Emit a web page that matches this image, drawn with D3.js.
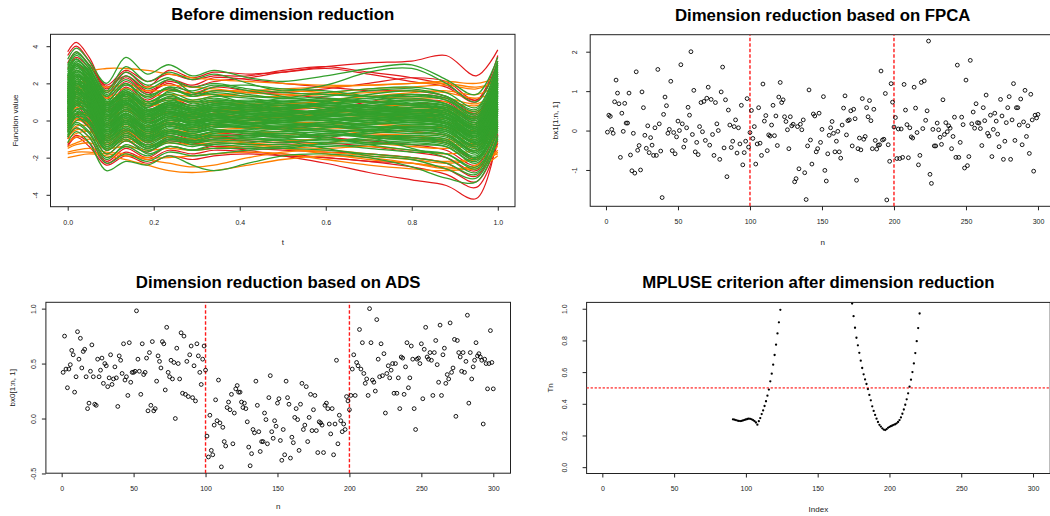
<!DOCTYPE html>
<html>
<head>
<meta charset="utf-8">
<script src="https://cdn.jsdelivr.net/npm/d3@7"></script>
<style>
  body { margin: 0; background: #fff; }
  svg { display: block; font-family: "Liberation Sans", Arial, Helvetica, sans-serif; }
</style>
</head>
<body>
<script>
(function (d3) {
  'use strict';

  // ---- data ----

  // panel 1: functional curves, values at these t knots
  const tGrid = [0, 0.02, 0.05, 0.09, 0.135, 0.185, 0.235, 0.29, 0.34, 0.42, 0.5, 0.6, 0.7, 0.8, 0.88, 0.95, 1];

  const redCurves = [
    [3.7, 4.2, 3.4, 1.8, 2.4, 1.6, 2.1, 1.8, 2.1, 2.3, 2.6, 2.9, 3.1, 3.2, 3.5, 2.4, 3.8],
    [3.5, 4.0, 3.2, 1.7, 2.6, 1.8, 2.7, 2.3, 2.6, 2.5, 2.6, 2.8, 2.5, 2.1, 1.8, 1.0, 3.2],
    [0.5, 0.9, 0.3, -0.9, -0.5, -1.1, -0.9, -1.2, -1.4, -1.6, -1.9, -2.3, -2.8, -3.2, -3.5, -4.2, -0.8],
    [-1.4, -0.9, -1.4, -2.4, -1.9, -2.3, -1.9, -2.1, -1.9, -1.8, -1.9, -2.0, -2.2, -2.5, -2.9, -3.6, -1.2],
    [2.8, 3.4, 2.8, 1.5, 2.3, 1.5, 2.0, 1.5, 1.8, 1.6, 1.5, 1.7, 2.0, 2.3, 2.1, 1.1, 3.0],
    [-1.0, -0.4, -0.9, -2.2, -1.5, -2.0, -1.4, -1.6, -1.4, -1.5, -1.6, -1.7, -1.8, -2.0, -2.3, -3.0, -0.7],
    [1.7, 2.4, 1.8, 0.5, 1.4, 0.7, 1.2, 0.8, 1.0, 0.8, 0.6, 0.7, 0.8, 0.9, 0.8, -0.1, 2.2],
    [0.6, 1.2, 0.6, -0.8, 0.0, -0.7, -0.1, -0.5, -0.3, -0.4, -0.4, -0.3, -0.5, -0.6, -0.8, -1.6, 0.5],
    [2.3, 3.0, 2.4, 1.2, 2.1, 1.4, 2.2, 1.9, 2.3, 2.2, 2.0, 1.8, 1.6, 1.6, 1.3, 0.4, 2.6],
    [-0.5, 0.1, -0.4, -1.8, -1.1, -1.7, -1.1, -1.3, -1.0, -1.1, -1.2, -1.2, -1.4, -1.7, -2.0, -2.7, -0.4],
    [1.2, 1.8, 1.1, -0.2, 0.6, -0.1, 0.5, 0.1, 0.4, 0.2, 0.3, 0.6, 1.0, 1.4, 1.2, 0.3, 2.5],
    [0.1, 0.7, 0.1, -1.3, -0.6, -1.2, -0.7, -1.0, -0.7, -0.8, -0.9, -0.8, -0.8, -0.9, -1.2, -2.1, 0.0],
    [3.1, 3.7, 3.0, 1.9, 2.7, 2.1, 2.5, 2.2, 2.4, 2.4, 2.7, 2.9, 2.6, 2.3, 1.9, 1.1, 3.5],
    [-1.3, -0.8, -1.2, -2.3, -1.7, -2.1, -1.6, -1.8, -1.6, -1.7, -1.8, -2.0, -2.2, -2.3, -2.6, -3.3, -1.1],
    [2.0, 2.7, 2.1, 0.8, 1.8, 1.1, 1.7, 1.4, 1.6, 1.5, 1.4, 1.2, 1.0, 1.1, 1.0, 0.1, 2.4],
    [-0.2, 0.3, -0.3, -1.6, -0.9, -1.5, -0.9, -1.1, -0.9, -0.8, -0.7, -0.9, -1.1, -1.3, -1.6, -2.4, -0.3],
  ];

  const orangeCurves = [
    [0.5, 1.5, 2.6, 2.8, 2.8, 2.7, 2.5, 2.3, 2.2, 2.1, 2.0, 1.9, 1.9, 2.0, 2.1, 2.0, 2.3],
    [-2.0, -1.9, -1.8, -1.9, -2.1, -2.4, -2.7, -2.8, -2.7, -2.4, -2.1, -1.9, -2.0, -2.3, -2.6, -2.4, -1.6],
    [-1.7, -1.6, -1.5, -1.7, -1.8, -2.1, -2.3, -2.5, -2.4, -2.0, -1.7, -1.6, -1.8, -2.0, -2.2, -2.0, -1.4],
    [-1.5, -1.3, -1.2, -1.5, -1.4, -1.6, -1.5, -1.6, -1.5, -1.4, -1.5, -1.7, -1.9, -2.1, -2.3, -2.1, -1.8],
    [-1.2, -0.9, -0.9, -1.3, -1.1, -1.3, -1.2, -1.3, -1.2, -1.3, -1.4, -1.5, -1.4, -1.6, -1.8, -1.6, -1.2],
    [-0.9, -0.5, -0.6, -1.1, -0.8, -1.1, -0.9, -1.0, -0.9, -1.0, -1.1, -1.0, -1.2, -1.4, -1.5, -1.3, -1.0],
    [-0.6, 0.0, -0.2, -0.9, -0.5, -0.9, -0.6, -0.8, -0.7, -0.6, -0.7, -0.8, -0.8, -1.0, -1.2, -1.4, -0.5],
    [-0.3, 0.3, 0.2, -0.5, -0.2, -0.6, -0.3, -0.4, -0.3, -0.4, -0.5, -0.4, -0.5, -0.6, -0.8, -1.0, -0.2],
    [0.0, 0.6, 0.5, -0.2, 0.1, -0.3, 0.0, -0.1, 0.0, 0.0, -0.1, -0.1, -0.2, -0.3, -0.4, -0.5, 0.2],
    [0.3, 0.9, 0.8, 0.2, 0.5, 0.1, 0.4, 0.3, 0.3, 0.2, 0.2, 0.3, 0.2, 0.2, 0.1, -0.2, 0.6],
    [0.7, 1.2, 1.1, 0.6, 0.8, 0.5, 0.7, 0.6, 0.6, 0.6, 0.5, 0.5, 0.6, 0.7, 0.6, 0.4, 1.0],
    [1.0, 1.5, 1.4, 0.9, 1.2, 0.9, 1.1, 1.0, 1.0, 0.9, 0.9, 1.0, 1.0, 1.1, 1.0, 0.8, 1.3],
    [1.3, 1.7, 1.6, 1.3, 1.5, 1.3, 1.4, 1.3, 1.4, 1.3, 1.3, 1.4, 1.5, 1.6, 1.5, 1.2, 1.6],
    [1.6, 1.9, 1.8, 1.6, 1.7, 1.6, 1.6, 1.5, 1.6, 1.6, 1.7, 1.8, 1.9, 2.0, 2.0, 1.8, 2.1],
    [1.9, 2.1, 2.0, 1.8, 1.9, 1.8, 1.9, 1.8, 1.7, 1.5, 1.4, 1.5, 1.7, 1.8, 1.9, 1.7, 2.2],
    [-1.8, -1.7, -1.7, -1.8, -1.9, -2.0, -2.0, -1.9, -1.8, -1.7, -1.8, -2.1, -2.4, -2.6, -2.7, -2.5, -1.7],
    [-1.0, -0.7, -0.6, -1.0, -0.7, -0.9, -0.6, -0.4, -0.2, 0.0, 0.2, 0.4, 0.5, 0.6, 0.5, 0.2, 0.8],
    [0.9, 1.3, 1.2, 0.5, 0.7, 0.3, 0.4, 0.1, 0.0, -0.2, -0.4, -0.5, -0.7, -0.8, -1.0, -1.2, -0.4],
    [-1.4, -1.2, -1.0, -1.2, -1.0, -1.1, -0.9, -1.0, -1.1, -1.2, -1.3, -1.2, -1.0, -0.9, -1.1, -1.3, -1.0],
    [1.5, 1.8, 1.7, 1.2, 1.3, 1.0, 1.2, 1.1, 1.3, 1.5, 1.6, 1.5, 1.3, 1.2, 1.2, 0.9, 1.5],
    [-0.4, 0.1, 0.0, -0.6, -0.3, -0.7, -0.5, -0.7, -0.9, -1.2, -1.5, -1.8, -2.1, -2.3, -2.5, -2.6, -1.9],
    [0.2, 0.7, 0.7, 0.0, 0.3, -0.1, 0.2, 0.2, 0.4, 0.6, 0.8, 1.1, 1.3, 1.5, 1.6, 1.4, 1.9],
    [0.5, 1.0, 0.9, 0.3, 0.5, 0.2, 0.4, 0.4, 0.5, 0.5, 0.6, 0.7, 0.8, 0.8, 0.7, 0.5, 0.9],
    [-0.2, 0.4, 0.3, -0.3, 0.0, -0.3, -0.1, 0.0, 0.1, 0.2, 0.2, 0.1, 0.0, 0.0, -0.1, -0.3, 0.4],
    [1.2, 1.6, 1.5, 1.0, 1.1, 0.8, 0.9, 0.7, 0.6, 0.5, 0.4, 0.3, 0.3, 0.4, 0.4, 0.2, 0.8],
    [-0.8, -0.3, -0.3, -0.8, -0.6, -0.8, -0.6, -0.6, -0.5, -0.4, -0.3, -0.2, -0.2, -0.3, -0.4, -0.7, -0.1],
  ];

  const greenCurves = [
    [3.3, 3.9, 3.2, 2.0, 3.4, 2.5, 3.0, 2.4, 2.7, 2.3, 2.1, 2.4, 2.8, 3.0, 2.2, 1.4, 3.4],
    [2.9, 3.6, 3.0, 1.6, 2.9, 2.1, 2.6, 2.2, 2.5, 2.0, 1.6, 1.9, 2.6, 2.8, 2.0, 1.0, 3.2],
    [2.6, 3.3, 2.6, 1.3, 2.4, 1.7, 2.2, 1.8, 2.0, 1.7, 1.5, 1.4, 1.3, 1.4, 1.1, 0.4, 2.9],
    [2.4, 3.1, 2.4, 1.0, 2.0, 1.2, 1.8, 1.3, 1.6, 1.4, 1.2, 1.3, 1.6, 1.7, 1.3, 0.5, 2.8],
    [2.2, 2.9, 2.2, 0.8, 1.7, 1.0, 1.5, 1.1, 1.3, 1.2, 1.0, 1.2, 1.0, 0.9, 0.8, 0.1, 2.5],
    [2.0, 2.7, 2.0, 0.6, 1.5, 0.8, 1.3, 1.0, 1.2, 0.9, 0.8, 0.9, 1.1, 1.2, 0.9, 0.0, 2.3],
    [1.9, 2.6, 1.8, 0.4, 1.2, 0.5, 1.0, 0.7, 0.9, 0.7, 0.6, 0.8, 0.7, 0.6, 0.5, -0.3, 2.1],
    [1.7, 2.4, 1.7, 0.3, 1.1, 0.4, 0.9, 0.6, 0.8, 0.6, 0.5, 0.4, 0.6, 0.8, 0.6, -0.4, 1.9],
    [1.6, 2.3, 1.5, 0.1, 0.9, 0.3, 0.8, 0.5, 0.6, 0.4, 0.3, 0.5, 0.4, 0.3, 0.2, -0.6, 1.8],
    [1.5, 2.1, 1.4, 0.0, 0.8, 0.1, 0.6, 0.3, 0.5, 0.3, 0.2, 0.2, 0.4, 0.5, 0.3, -0.7, 1.6],
    [1.3, 2.0, 1.3, -0.1, 0.6, 0.0, 0.5, 0.2, 0.4, 0.2, 0.1, 0.3, 0.2, 0.1, -0.1, -0.9, 1.5],
    [1.2, 1.8, 1.1, -0.2, 0.5, -0.2, 0.3, 0.0, 0.2, 0.1, 0.0, 0.0, 0.2, 0.3, 0.0, -0.9, 1.3],
    [1.1, 1.7, 1.0, -0.4, 0.4, -0.3, 0.2, -0.1, 0.1, -0.1, -0.1, 0.1, -0.1, -0.2, -0.3, -1.1, 1.2],
    [1.0, 1.6, 0.9, -0.5, 0.2, -0.4, 0.1, -0.2, 0.0, -0.1, -0.2, -0.2, 0.0, 0.1, -0.2, -1.2, 1.0],
    [0.8, 1.4, 0.8, -0.6, 0.1, -0.6, -0.1, -0.4, -0.2, -0.3, -0.3, -0.1, -0.3, -0.4, -0.5, -1.3, 0.9],
    [0.7, 1.3, 0.6, -0.8, -0.1, -0.7, -0.2, -0.5, -0.3, -0.4, -0.5, -0.4, -0.2, -0.1, -0.4, -1.4, 0.7],
    [0.5, 1.1, 0.5, -0.9, -0.2, -0.8, -0.3, -0.6, -0.5, -0.6, -0.6, -0.5, -0.6, -0.7, -0.8, -1.6, 0.6],
    [0.4, 1.0, 0.3, -1.1, -0.4, -1.0, -0.5, -0.8, -0.6, -0.7, -0.7, -0.8, -0.7, -0.5, -0.7, -1.7, 0.4],
    [0.2, 0.8, 0.2, -1.2, -0.5, -1.1, -0.6, -0.9, -0.8, -0.8, -0.9, -0.7, -0.9, -1.0, -1.1, -1.9, 0.3],
    [0.0, 0.6, 0.0, -1.4, -0.7, -1.3, -0.8, -1.1, -0.9, -1.0, -1.0, -1.1, -1.0, -0.9, -1.0, -2.0, 0.1],
    [-0.2, 0.4, -0.2, -1.6, -0.9, -1.5, -1.0, -1.2, -1.1, -1.1, -1.2, -1.0, -1.2, -1.3, -1.4, -2.2, -0.1],
    [-0.4, 0.2, -0.4, -1.8, -1.1, -1.6, -1.2, -1.4, -1.2, -1.3, -1.3, -1.4, -1.3, -1.2, -1.4, -2.3, -0.3],
    [-0.6, -0.1, -0.6, -2.0, -1.4, -1.9, -1.4, -1.6, -1.5, -1.5, -1.4, -1.3, -1.5, -1.7, -1.8, -2.5, -0.5],
    [-0.9, -0.4, -0.9, -2.3, -1.8, -2.2, -1.7, -1.9, -1.8, -1.6, -1.5, -1.6, -1.8, -2.0, -2.3, -2.9, -0.8],
    [-1.2, -0.6, -1.2, -2.7, -2.2, -2.4, -1.9, -2.4, -2.7, -2.3, -1.9, -1.8, -2.0, -2.5, -3.1, -3.3, -1.0],
    [1.4, 2.2, 1.6, 0.2, 1.4, 0.7, 1.6, 1.4, 1.8, 1.9, 1.7, 1.6, 1.3, 0.9, 0.4, -0.5, 1.9],
    [0.3, 0.9, 0.4, -1.0, -0.2, -0.9, -0.3, -0.6, -0.3, -0.2, 0.1, 0.5, 0.8, 0.9, 0.6, -0.2, 2.0],
    [1.8, 2.5, 1.9, 0.7, 1.5, 0.6, 1.0, 0.4, 0.3, -0.2, -0.5, -0.9, -1.3, -1.6, -1.8, -2.6, -0.6],
    [0.9, 1.5, 0.9, -0.3, 0.3, -0.5, 0.0, -0.3, 0.1, 0.3, 0.6, 1.0, 1.4, 1.6, 1.3, 0.6, 3.0],
    [-0.1, 0.5, -0.1, -1.5, -0.8, -1.4, -0.9, -1.0, -0.7, -0.5, -0.3, -0.5, -0.9, -1.5, -2.0, -2.8, -0.4],
    [2.7, 3.5, 2.8, 1.5, 2.6, 1.9, 2.3, 1.5, 1.4, 0.9, 0.7, 0.9, 1.2, 1.4, 1.2, 0.3, 2.7],
    [-0.8, -0.2, -0.7, -2.1, -1.3, -1.7, -1.0, -1.1, -0.8, -0.9, -1.1, -1.5, -1.9, -2.1, -2.6, -3.1, -0.9],
    [1.0, 1.7, 1.2, 0.0, 0.9, 0.2, 0.8, 0.6, 0.9, 0.8, 0.9, 0.7, 0.4, 0.2, -0.1, -1.0, 1.4],
    [0.6, 1.2, 0.7, -0.7, 0.0, -0.5, 0.1, -0.2, -0.1, 0.0, 0.3, 0.2, 0.5, 0.4, 0.2, -0.6, 1.7],
    [1.9, 2.8, 2.3, 0.9, 1.6, 0.9, 1.2, 0.6, 0.7, 0.5, 0.4, 0.6, 0.9, 1.1, 0.9, 0.2, 2.6],
    [0.9, 1.9, 1.7, 0.5, 0.9, 0.1, 0.4, 0.0, 0.1, 0.2, 0.3, 0.1, -0.1, 0.0, -0.2, -0.8, 1.1],
    [2.5, 3.0, 2.1, 0.3, 1.0, 0.2, 0.7, 0.4, 0.7, 0.8, 0.6, 0.3, 0.1, 0.3, 0.1, -0.7, 2.0],
    [0.2, 1.1, 0.9, -0.5, 0.3, -0.4, 0.4, 0.3, 0.5, 0.4, 0.2, 0.0, -0.3, -0.5, -0.6, -1.4, 0.5],
    [1.6, 2.0, 1.2, -0.6, -0.1, -0.9, -0.4, -0.6, -0.4, -0.3, -0.1, 0.2, 0.4, 0.3, 0.1, -0.9, 1.6],
    [3.0, 3.7, 2.9, 1.3, 2.0, 1.0, 1.4, 0.9, 1.1, 1.0, 1.2, 1.5, 1.7, 1.8, 1.5, 0.7, 3.1],
    [-0.3, 0.6, 0.5, -0.9, -0.4, -1.2, -0.7, -0.9, -0.6, -0.6, -0.8, -0.9, -0.6, -0.4, -0.6, -1.5, 0.6],
    [1.2, 2.2, 2.0, 0.9, 1.3, 0.5, 0.7, 0.2, 0.3, 0.1, 0.0, 0.2, 0.4, 0.7, 0.7, -0.1, 2.2],
    [0.6, 1.6, 1.3, -0.1, 0.5, -0.2, 0.2, 0.0, 0.3, 0.5, 0.6, 0.8, 0.7, 0.5, 0.2, -0.7, 1.0],
    [2.1, 3.0, 2.6, 1.1, 1.9, 1.3, 1.8, 1.6, 1.9, 1.6, 1.3, 1.0, 0.8, 0.6, 0.3, -0.4, 1.5],
    [-0.5, 0.3, 0.2, -1.3, -0.6, -1.4, -1.0, -1.3, -1.3, -1.4, -1.5, -1.2, -0.9, -0.8, -0.9, -1.8, 0.2],
    [1.4, 2.4, 1.9, 0.3, 0.9, 0.0, 0.4, 0.1, 0.4, 0.5, 0.4, 0.6, 0.9, 1.0, 0.8, 0.0, 2.4],
    [0.0, 0.9, 0.8, -0.6, 0.0, -0.8, -0.5, -0.7, -0.4, -0.3, -0.4, -0.6, -0.8, -0.9, -1.1, -2.0, -0.2],
    [2.8, 3.3, 2.5, 0.9, 1.5, 0.6, 0.9, 0.5, 0.8, 0.6, 0.7, 0.9, 0.7, 0.5, 0.4, -0.5, 1.8],
    [0.4, 1.3, 1.1, -0.3, 0.2, -0.6, -0.2, -0.4, -0.1, -0.2, 0.0, 0.3, 0.3, 0.1, -0.1, -1.0, 0.8],
    [1.0, 2.0, 1.5, 0.1, 0.7, -0.1, 0.3, 0.1, 0.3, 0.1, -0.1, -0.3, -0.5, -0.4, -0.5, -1.3, 0.6],
    [-0.9, 0.0, -0.1, -1.6, -1.0, -1.8, -1.4, -1.6, -1.3, -1.2, -1.0, -0.8, -0.9, -1.1, -1.3, -2.1, -0.3],
    [2.3, 3.2, 2.7, 1.4, 2.2, 1.4, 1.7, 1.3, 1.5, 1.3, 1.2, 1.1, 1.2, 1.3, 1.1, 0.2, 2.2],
    [0.7, 1.7, 1.4, 0.2, 0.9, 0.3, 0.6, 0.4, 0.6, 0.7, 0.6, 0.4, 0.3, 0.2, 0.0, -0.8, 1.3],
    [1.7, 2.7, 2.2, 0.7, 1.2, 0.3, 0.5, 0.2, 0.2, 0.1, 0.3, 0.6, 0.8, 0.6, 0.4, -0.3, 1.7],
    [1.1, 2.1, 1.8, 0.4, 1.0, 0.2, 0.5, 0.3, 0.5, 0.4, 0.3, 0.1, 0.0, 0.2, 0.3, -0.5, 1.5],
    [0.3, 1.4, 1.3, -0.2, 0.4, -0.3, 0.0, -0.1, 0.2, 0.1, -0.1, -0.2, -0.4, -0.3, -0.4, -1.2, 0.7],
    [1.5, 2.5, 2.0, 0.5, 1.1, 0.4, 0.8, 0.5, 0.7, 0.6, 0.7, 0.8, 0.6, 0.4, 0.2, -0.6, 1.4],
    [-0.2, 0.8, 0.6, -0.7, -0.1, -0.9, -0.6, -0.8, -0.6, -0.5, -0.6, -0.4, -0.3, -0.5, -0.7, -1.6, 0.3],
    [2.0, 2.9, 2.4, 1.0, 1.4, 0.6, 0.8, 0.6, 0.9, 1.0, 0.9, 0.7, 0.5, 0.7, 0.6, -0.2, 2.0],
    [0.8, 1.8, 1.5, 0.0, 0.6, -0.1, 0.2, -0.1, 0.0, -0.2, -0.3, -0.1, 0.1, 0.0, -0.2, -1.1, 0.9],
    [-0.6, 0.4, 0.3, -1.1, -0.5, -1.1, -0.8, -1.1, -1.0, -0.9, -0.8, -1.0, -1.1, -1.0, -1.2, -2.0, -0.1],
    [1.3, 2.3, 2.1, 0.7, 1.1, 0.4, 0.6, 0.4, 0.6, 0.8, 1.0, 1.1, 1.0, 0.8, 0.6, -0.2, 2.0],
    [0.5, 1.5, 1.2, -0.3, 0.4, -0.4, 0.1, -0.1, 0.0, 0.1, 0.2, 0.0, -0.2, -0.1, -0.3, -1.1, 0.9],
    [2.2, 3.1, 2.5, 0.8, 1.3, 0.5, 1.0, 0.8, 1.0, 0.8, 0.5, 0.4, 0.3, 0.5, 0.5, -0.3, 2.3],
    [0.1, 1.0, 0.9, -0.6, 0.0, -0.7, -0.3, -0.5, -0.2, -0.1, -0.2, -0.3, -0.1, 0.2, 0.1, -0.8, 1.2],
    [1.8, 2.7, 2.1, 0.6, 1.0, 0.1, 0.4, 0.3, 0.5, 0.3, 0.4, 0.5, 0.6, 0.5, 0.4, -0.4, 1.9],
    [-0.4, 0.6, 0.4, -1.0, -0.3, -1.0, -0.7, -0.9, -0.8, -0.8, -0.7, -0.6, -0.5, -0.6, -0.8, -1.7, 0.0],
    [1.0, 2.0, 1.8, 0.5, 1.0, 0.3, 0.7, 0.5, 0.8, 0.9, 0.8, 0.6, 0.5, 0.4, 0.2, -0.6, 1.3],
    [0.6, 1.5, 1.2, -0.2, 0.3, -0.5, -0.1, -0.3, -0.1, -0.1, 0.0, 0.2, 0.1, -0.1, -0.3, -1.2, 0.6],
    [2.4, 3.3, 2.6, 1.0, 1.6, 0.8, 1.1, 0.8, 1.0, 1.1, 1.0, 0.9, 1.0, 1.1, 0.9, 0.1, 2.5],
    [-0.7, 0.2, 0.0, -1.4, -0.8, -1.5, -1.1, -1.2, -1.0, -1.0, -1.1, -1.2, -1.2, -1.1, -1.2, -2.0, -0.2],
    [1.3, 2.4, 2.0, 0.6, 1.1, 0.5, 0.9, 0.7, 0.9, 0.7, 0.6, 0.4, 0.2, 0.1, 0.0, -0.9, 1.0],
    [0.2, 1.2, 1.0, -0.4, 0.2, -0.5, -0.2, -0.3, -0.2, -0.4, -0.4, -0.3, -0.4, -0.2, -0.3, -1.2, 0.5],
    [1.6, 2.6, 2.3, 0.8, 1.4, 0.8, 1.2, 1.0, 1.1, 1.0, 1.1, 1.0, 0.8, 0.9, 0.7, -0.1, 2.0],
    [0.9, 1.9, 1.6, 0.2, 0.8, 0.0, 0.4, 0.2, 0.3, 0.4, 0.4, 0.3, 0.3, 0.4, 0.2, -0.7, 1.5],
    [-0.1, 0.9, 0.7, -0.8, -0.2, -1.0, -0.6, -0.7, -0.5, -0.7, -0.9, -0.7, -0.5, -0.3, -0.5, -1.4, 0.4],
    [1.2, 2.1, 1.7, 0.1, 0.7, -0.1, 0.3, 0.2, 0.5, 0.6, 0.5, 0.5, 0.7, 0.6, 0.5, -0.4, 1.8],
    [0.4, 1.4, 1.1, -0.5, 0.1, -0.6, -0.2, -0.2, 0.1, 0.0, 0.1, 0.1, 0.1, 0.0, -0.1, -0.9, 0.8],
  ];

  const curveColors = ['#E31A1C', '#FF7F00', '#33A02C'];
  const curveWidths = [1.2, 1.3, 1.3];

  // panel 2: bx1[1:n, 1], n = 1..300
  const fpcaScores = [
    -0.04, 0.39, 0.36, 0.03, -0.07, 0.73, 1.28, 0.95, 0.68, -0.68,
    0.44, -0.02, 0.69, 0.19, 0.19, 0.95, -0.62, -1.02, -0.07, -1.08,
    1.49, -0.5, -0.38, -1.0, 0.98, 0.58, -0.12, -0.45, 0.12, -0.56,
    -0.18, -0.37, -0.63, 0.07, -0.63, 1.55, 0.17, -0.52, -1.7, 0.41,
    0.85, 0.63, -0.07, 0.03, 1.25, -0.51, -0.05, -0.59, -0.16, 0.24,
    0.0, 1.67, 0.17, -0.42, -0.25, 0.07, 0.59, 0.39, 2.0, -0.1,
    1.02, -0.54, -0.3, -0.61, 0.1, 0.71, -0.03, 0.74, -0.25, 0.82,
    1.1, -0.37, 0.79, -0.1, -0.63, 0.71, 0.17, 0.0, -0.73, 0.98,
    1.61, -0.44, 0.78, -1.17, 0.52, 0.14, -0.43, -0.27, 0.1, 0.27,
    -0.57, 0.07, -0.34, 0.64, -0.87, -0.56, -0.27, 0.81, -0.42, -0.05,
    0.51, -0.2, 0.1, -0.85, -0.34, 0.58, -0.32, -0.63, 1.18, 0.24,
    0.38, -0.51, -0.11, -0.14, 0.14, 0.64, -0.13, 0.37, -0.38, 0.85,
    1.22, 0.71, 0.78, 0.35, 0.23, 0.02, -0.46, 0.35, 0.12, 0.16,
    -1.3, -1.22, 0.1, -0.97, 0.16, 0.02, 0.27, -1.07, -1.75, -0.39,
    1.03, -0.24, -0.85, 0.42, 0.37, -0.54, -0.46, 0.44, -0.3, 0.03,
    0.86, -1.01, -1.28, -0.59, -0.12, 0.07, 0.23, -0.07, -0.54, -0.27,
    -0.02, -0.54, -0.7, 0.14, 0.57, 0.88, -0.11, 0.25, 0.27, 0.5,
    -0.39, 0.54, 0.3, -1.26, -0.46, -0.19, -0.49, 0.81, -0.22, -0.15,
    0.58, 0.35, 0.76, 0.25, -0.46, 0.54, -0.25, -0.47, -0.37, -0.36,
    1.51, -0.24, -0.22, 0.94, -1.76, -0.36, -0.78, 1.19, 0.72, 0.09,
    0.33, -0.71, 0.04, -0.71, 0.04, -0.68, 1.17, 0.52, 0.15, -0.69,
    0.07, -0.16, -0.19, 1.1, 0.57, -0.05, -0.87, -0.63, 1.22, 0.05,
    1.26, 0.26, 0.5, 2.27, -1.11, -1.34, 0.03, -0.39, -0.39, 0.19,
    0.02, -0.17, -0.35, 0.78, -0.1, 0.2, -0.03, 0.12, 0.06, -0.46,
    -0.15, 0.34, -0.68, 1.66, -0.68, -0.3, 0.34, 0.15, -0.95, 1.28,
    -0.89, -0.66, 1.78, 0.17, 0.47, 0.06, 0.68, 0.2, 0.19, 0.05,
    -0.38, 0.58, 0.25, 0.9, -0.07, -0.14, 0.39, -0.66, 0.03, 0.44,
    0.24, -0.09, -0.41, 0.79, 0.37, -0.73, -0.27, 0.2, 0.58, 0.86,
    -0.73, 0.27, 1.19, -0.25, 0.58, 0.58, 0.14, 0.8, -0.36, 0.22,
    1.02, -0.15, 0.12, -0.58, 0.92, 0.27, -1.03, 0.39, 0.32, 0.41,
  ];

  // panel 3: bx0[1:n, 1], n = 1..300
  const adsScores = [
    0.42, 0.75, 0.45, 0.28, 0.45, 0.49, 0.62, 0.58, 0.24, 0.38,
    0.79, 0.54, 0.73, 0.46, 0.61, 0.63, 0.38, 0.09, 0.14, 0.43,
    0.67, 0.38, 0.13, 0.12, 0.54, 0.38, 0.44, 0.55, 0.32, 0.5,
    0.48, 0.29, 0.37, 0.58, 0.31, 0.36, 0.47, 0.37, 0.11, 0.57,
    0.53, 0.41, 0.68, 0.35, 0.38, 0.21, 0.69, 0.33, 0.42, 0.42,
    0.43, 0.98, 0.54, 0.43, 0.22, 0.68, 0.4, 0.42, 0.55, 0.07,
    0.6, 0.12, 0.7, 0.07, 0.09, 0.34, 0.57, 0.52, 0.46, 0.7,
    0.68, 0.26, 0.83, 0.42, 0.38, 0.53, 0.36, 0.51, 0.0, 0.64,
    0.5, 0.36, 0.78, 0.23, 0.75, 0.22, 0.52, 0.2, 0.58, 0.66,
    0.19, 0.48, 0.16, 0.68, 0.57, 0.42, 0.31, 0.54, 0.66, 0.44,
    -0.16, -0.35, 0.03, -0.29, -0.33, -0.06, 0.17, -0.02, 0.35, -0.04,
    -0.44, -0.08, -0.21, -0.25, 0.1, 0.15, 0.08, 0.22, -0.23, 0.05,
    0.27, 0.3, 0.24, 0.24, 0.15, 0.1, 0.14, 0.09, -0.03, -0.26,
    -0.43, -0.32, -0.1, -0.13, 0.34, 0.12, -0.12, -0.3, -0.21, -0.21,
    0.05, -0.01, -0.23, 0.19, 0.39, -0.12, -0.18, -0.02, -0.07, 0.14,
    0.18, -0.2, -0.38, -0.1, -0.33, 0.34, 0.19, 0.13, -0.36, -0.17,
    -0.22, 0.01, 0.09, -0.01, -0.29, 0.13, 0.32, -0.1, -0.06, 0.29,
    -0.21, 0.01, 0.22, -0.11, 0.08, 0.21, -0.11, -0.31, -0.03, -0.04,
    -0.06, -0.31, 0.12, 0.14, 0.09, -0.05, -0.14, 0.09, -0.33, -0.05,
    0.53, -0.23, 0.03, -0.02, -0.12, -0.05, -0.1, 0.2, 0.16, 0.08,
    0.21, 0.45, 0.58, 0.21, 0.51, 0.48, 0.81, 0.45, 0.69, 0.41,
    0.32, 0.36, 0.21, 1.0, 0.69, 0.35, 0.33, 0.25, 0.9, 0.54,
    0.38, 0.68, 0.39, 0.59, 0.05, 0.41, 0.48, 0.37, 0.44, 0.5,
    0.23, 0.5, 0.23, 0.37, 0.09, 0.56, 0.55, 0.22, 0.47, 0.69,
    0.28, 0.37, 0.66, 0.54, 0.09, -0.1, 0.54, 0.55, 0.5, 0.68,
    0.18, 0.63, 0.83, 0.56, 0.54, 0.6, 0.53, 0.21, 0.6, 0.71,
    0.49, 0.33, 0.85, 0.21, 0.58, 0.64, 0.32, 0.4, 0.36, 0.87,
    0.42, 0.46, 0.72, 0.02, 0.71, 0.6, 0.56, 0.43, 0.6, 0.42,
    0.52, 0.94, 0.14, 0.6, 0.36, 0.47, 0.53, 0.69, 0.57, 0.59,
    0.56, 0.53, -0.05, 0.54, 0.5, 0.27, 0.5, 0.8, 0.51, 0.27,
  ];

  // panel 4: Tn at each index (only the visible stretches)
  const tnIndex = [
    91, 92, 93, 94, 95, 96, 97, 98, 99, 100, 101, 102, 103, 104, 105, 106, 107,
    108, 109, 110, 111, 112, 113, 114, 115, 116, 117, 118, 119, 120, 121, 122, 123, 124,
    174, 175, 176, 177, 178, 179, 180, 181, 182, 183, 184, 185, 186, 187, 188, 189,
    190, 191, 192, 193, 194, 195, 196, 197, 198, 199, 200, 201, 202, 203, 204, 205,
    206, 207, 208, 209, 210, 211, 212, 213, 214, 215, 216, 217, 218, 219, 220, 221,
  ];
  const tnValues = [
    0.302, 0.300, 0.297, 0.294, 0.292, 0.291, 0.292, 0.295, 0.298, 0.301, 0.304, 0.306, 0.305, 0.302, 0.297, 0.29, 0.282,
    0.268, 0.29, 0.31, 0.335, 0.358, 0.386, 0.416, 0.451, 0.49, 0.542, 0.59, 0.647, 0.708, 0.773, 0.844, 0.914, 0.993,
    1.033, 0.953, 0.88, 0.817, 0.769, 0.722, 0.672, 0.626, 0.586, 0.554, 0.525, 0.493, 0.456, 0.422, 0.384, 0.355,
    0.33, 0.306, 0.285, 0.267, 0.256, 0.245, 0.237, 0.234, 0.24, 0.248, 0.254, 0.259, 0.263, 0.267, 0.271, 0.277,
    0.285, 0.297, 0.314, 0.337, 0.364, 0.394, 0.428, 0.466, 0.508, 0.552, 0.6, 0.655, 0.72, 0.795, 0.878, 0.97,
  ];

  const changePoints = [100, 200];
  const tnThreshold = 0.5;

  const tTicks = [0, 0.2, 0.4, 0.6, 0.8, 1.0];
  const curveTicks = [-4, -2, 0, 2, 4];
  const nTicks = [0, 50, 100, 150, 200, 250, 300];
  const fpcaTicks = [-1, 0, 1, 2];
  const adsTicks = [-0.5, 0.0, 0.5, 1.0];
  const tnTicks = [0, 0.2, 0.4, 0.6, 0.8, 1.0];

  // ---- helpers ----

  // R style axis limits: data range stretched by 4% each side
  const rLimits = (values) => {
    const [lo, hi] = d3.extent(values);
    const pad = (hi - lo) * 0.04;
    return [lo - pad, hi + pad];
  };

  const oneDecimal = (d) => d.toFixed(1);
  const plain = (d) => String(d);

  let clipCount = 0;

  const plotFrame = () => {
    let xScale;
    let yScale;
    let xTicks;
    let yTicks;
    let xFormat = plain;
    let yFormat = plain;
    let title;
    let xLabel;
    let yLabel;
    let yTickGap = 13;
    let yLabelGap = 32;
    let xLabelGap = 38;

    const my = (selection) => {
      const [left, right] = xScale.range();
      const [bottom, top] = yScale.range();

      const xAxis = selection.append('g')
        .attr('transform', `translate(0, ${bottom})`)
        .call(d3.axisBottom(xScale).tickValues(xTicks).tickFormat(xFormat)
          .tickSize(4).tickPadding(9));

      const yAxis = selection.append('g')
        .attr('transform', `translate(${left}, 0)`)
        .call(d3.axisLeft(yScale).tickValues(yTicks).tickFormat(yFormat)
          .tickSize(4));

      [xAxis, yAxis].forEach((axis) => {
        axis.select('.domain').remove();
        axis.attr('font-size', 7)
          .attr('font-family', null)
          .attr('color', '#222');
      });

      // rotated y tick labels, as R draws them
      yAxis.selectAll('.tick text')
        .attr('x', 0)
        .attr('dy', 0)
        .attr('text-anchor', 'middle')
        .attr('transform', `translate(${-yTickGap}, 0) rotate(-90)`);

      selection.append('rect')
        .attr('x', left)
        .attr('y', top)
        .attr('width', right - left)
        .attr('height', bottom - top)
        .attr('fill', 'none')
        .attr('stroke', '#222')
        .attr('stroke-width', 1);

      selection.append('text')
        .attr('x', (left + right) / 2)
        .attr('y', top - 14)
        .attr('text-anchor', 'middle')
        .attr('font-size', 16.8)
        .attr('font-weight', 'bold')
        .text(title);

      selection.append('text')
        .attr('x', (left + right) / 2)
        .attr('y', bottom + xLabelGap)
        .attr('text-anchor', 'middle')
        .attr('font-size', 8)
        .attr('fill', '#222')
        .text(xLabel);

      selection.append('text')
        .attr('transform', `translate(${left - yLabelGap}, ${(top + bottom) / 2}) rotate(-90)`)
        .attr('text-anchor', 'middle')
        .attr('font-size', 8)
        .attr('fill', '#222')
        .text(yLabel);

      const id = `plot-clip-${clipCount++}`;
      selection.append('clipPath')
        .attr('id', id)
        .append('rect')
        .attr('x', left)
        .attr('y', top)
        .attr('width', right - left)
        .attr('height', bottom - top);

      return selection.append('g').attr('clip-path', `url(#${id})`);
    };

    my.x = function (_) { return arguments.length ? ((xScale = _), my) : xScale; };
    my.y = function (_) { return arguments.length ? ((yScale = _), my) : yScale; };
    my.xTicks = function (_) { return arguments.length ? ((xTicks = _), my) : xTicks; };
    my.yTicks = function (_) { return arguments.length ? ((yTicks = _), my) : yTicks; };
    my.xFormat = function (_) { return arguments.length ? ((xFormat = _), my) : xFormat; };
    my.yFormat = function (_) { return arguments.length ? ((yFormat = _), my) : yFormat; };
    my.title = function (_) { return arguments.length ? ((title = _), my) : title; };
    my.xLabel = function (_) { return arguments.length ? ((xLabel = _), my) : xLabel; };
    my.yLabel = function (_) { return arguments.length ? ((yLabel = _), my) : yLabel; };
    my.yTickGap = function (_) { return arguments.length ? ((yTickGap = _), my) : yTickGap; };
    my.yLabelGap = function (_) { return arguments.length ? ((yLabelGap = _), my) : yLabelGap; };
    my.xLabelGap = function (_) { return arguments.length ? ((xLabelGap = _), my) : xLabelGap; };

    return my;
  };

  const drawChangeLines = (body, x, y) => {
    body.selectAll('line.cp')
      .data(changePoints)
      .join('line')
      .attr('class', 'cp')
      .attr('x1', (d) => x(d))
      .attr('x2', (d) => x(d))
      .attr('y1', y.range()[0])
      .attr('y2', y.range()[1])
      .attr('stroke', '#FF1A1A')
      .attr('stroke-width', 1.4)
      .attr('stroke-dasharray', '3.5,2');
  };

  const drawOpenPoints = (body, values, x, y) => {
    body.append('g')
      .selectAll('circle')
      .data(values)
      .join('circle')
      .attr('cx', (d, i) => x(i + 1))
      .attr('cy', (d) => y(d))
      .attr('r', 1.9)
      .attr('fill', 'none')
      .attr('stroke', '#000')
      .attr('stroke-width', 0.9);
  };

  const svg = d3.select('body')
    .append('svg')
    .attr('width', 1050)
    .attr('height', 516);

  const indexLimits = rLimits([1, 300]);

  // ---- panel 1: curves ----
  const x1 = d3.scaleLinear().domain(rLimits(tGrid)).range([50.5, 515]);
  const y1 = d3.scaleLinear().domain([-4.64, 4.64]).range([206.7, 34.3]);

  const body1 = plotFrame()
    .x(x1).y(y1)
    .xTicks(tTicks).yTicks(curveTicks)
    .xFormat(oneDecimal)
    .title('Before dimension reduction')
    .xLabel('t').yLabel('Function value')
    .yTickGap(13).yLabelGap(32.5).xLabelGap(38.3)(svg.append('g'));

  const curveLine = d3.line()
    .x((d, i) => x1(tGrid[i]))
    .y((d) => y1(d))
    .curve(d3.curveCatmullRom.alpha(0.5));

  // red first, orange over it, green on top
  [redCurves, orangeCurves, greenCurves].forEach((group, gi) => {
    body1.append('g')
      .selectAll('path')
      .data(group)
      .join('path')
      .attr('d', curveLine)
      .attr('fill', 'none')
      .attr('stroke', curveColors[gi])
      .attr('stroke-width', curveWidths[gi]);
  });

  // ---- panel 2: FPCA scores ----
  const x2 = d3.scaleLinear().domain(indexLimits).range([590.2, 1055.2]);
  const y2 = d3.scaleLinear().domain(rLimits(fpcaScores)).range([206.3, 34.7]);

  const body2 = plotFrame()
    .x(x2).y(y2)
    .xTicks(nTicks).yTicks(fpcaTicks)
    .title('Dimension reduction based on FPCA')
    .xLabel('n').yLabel('bx1[1:n, 1]')
    .yTickGap(13.5).yLabelGap(32).xLabelGap(38.5)(svg.append('g'));

  drawChangeLines(body2, x2, y2);
  drawOpenPoints(body2, fpcaScores, x2, y2);

  // ---- panel 3: ADS scores ----
  const x3 = d3.scaleLinear().domain(indexLimits).range([45.9, 510.5]);
  const y3 = d3.scaleLinear().domain(rLimits(adsScores)).range([473.2, 302.3]);

  const body3 = plotFrame()
    .x(x3).y(y3)
    .xTicks(nTicks).yTicks(adsTicks)
    .yFormat(oneDecimal)
    .title('Dimension reduction based on ADS')
    .xLabel('n').yLabel('bx0[1:n, 1]')
    .yTickGap(10).yLabelGap(31).xLabelGap(35.5)(svg.append('g'));

  drawChangeLines(body3, x3, y3);
  drawOpenPoints(body3, adsScores, x3, y3);

  // ---- panel 4: MPLUSE criterion ----
  const x4 = d3.scaleLinear().domain(indexLimits).range([586.6, 1050.2]);
  const y4 = d3.scaleLinear().domain(rLimits([0, 1])).range([473.5, 302.4]);

  const body4 = plotFrame()
    .x(x4).y(y4)
    .xTicks(nTicks).yTicks(tnTicks)
    .yFormat(oneDecimal)
    .title('MPLUSE criterion after dimension reduction')
    .xLabel('Index').yLabel('Tn')
    .yTickGap(20).yLabelGap(33.5).xLabelGap(38)(svg.append('g'));

  body4.append('line')
    .attr('x1', x4.range()[0])
    .attr('x2', x4.range()[1])
    .attr('y1', y4(tnThreshold))
    .attr('y2', y4(tnThreshold))
    .attr('stroke', '#FF6464')
    .attr('stroke-width', 1.8)
    .attr('stroke-dasharray', '2.3,1.7');

  body4.append('g')
    .selectAll('circle')
    .data(tnValues)
    .join('circle')
    .attr('cx', (d, i) => x4(tnIndex[i]))
    .attr('cy', (d) => y4(d))
    .attr('r', 1.15)
    .attr('fill', '#000');

}(d3));
</script>
</body>
</html>
